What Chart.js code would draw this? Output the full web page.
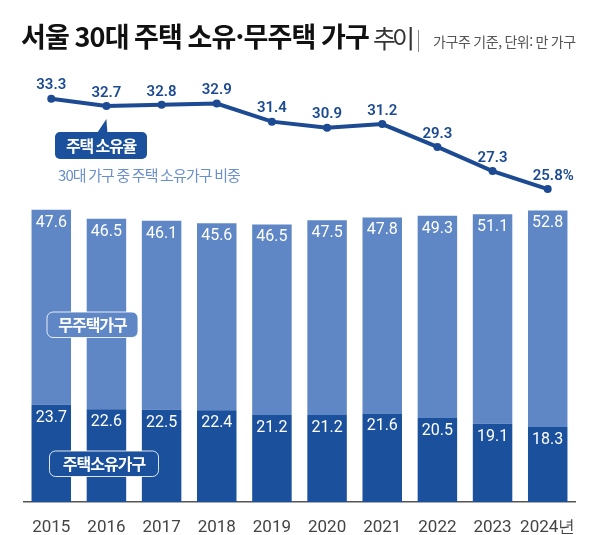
<!DOCTYPE html>
<html lang="ko">
<head>
<meta charset="utf-8">
<title>서울 30대 주택 소유·무주택 가구 추이</title>
<script src="https://cdn.jsdelivr.net/npm/chart.js@4.4.1/dist/chart.umd.min.js"></script>
<style>
  html, body { margin: 0; padding: 0; background: #fff; }
  #wrap { width: 599px; height: 535px; }
</style>
</head>
<body>
<div id="wrap"><canvas id="chart" width="599" height="535"></canvas></div>
<script>
// 연도 / 가구 수(만 가구) / 주택 소유율(%)
const years = ['2015', '2016', '2017', '2018', '2019', '2020', '2021', '2022', '2023', '2024년'];
const ownedHouseholds = [23.7, 22.6, 22.5, 22.4, 21.2, 21.2, 21.6, 20.5, 19.1, 18.3];
const nonOwnedHouseholds = [47.6, 46.5, 46.1, 45.6, 46.5, 47.5, 47.8, 49.3, 51.1, 52.8];
const ownershipRate = [33.3, 32.7, 32.8, 32.9, 31.4, 30.9, 31.2, 29.3, 27.3, 25.8];

const DARK = '#1a509c';
const LIGHT = '#5f87c5';
const LINE = '#1c4a93';
const KR = '"Noto Sans CJK KR", "Noto Sans", sans-serif';
const NUM = 'Roboto, "Noto Sans", sans-serif';

// 말풍선, 제목 등 그리기
const decoPlugin = {
  id: 'deco',
  afterDatasetsDraw(chart) {
    const ctx = chart.ctx;
    ctx.save();

    // 막대 수치
    ctx.font = '16px ' + NUM;
    ctx.fillStyle = '#fff';
    ctx.textAlign = 'center';
    ctx.textBaseline = 'top';
    [0, 1].forEach(i => {
      const vals = chart.data.datasets[i].data;
      chart.getDatasetMeta(i).data.forEach((bar, j) => {
        ctx.fillText(vals[j].toFixed(1), bar.x, bar.y + 5);
      });
    });

    // 꺾은선 수치
    ctx.font = '600 15px ' + NUM;
    ctx.fillStyle = LINE;
    ctx.textBaseline = 'middle';
    const pts = chart.getDatasetMeta(2).data;
    pts.forEach((p, j) => {
      const txt = ownershipRate[j].toFixed(1);
      if (j === pts.length - 1) {
        const w = ctx.measureText(txt).width;
        ctx.textAlign = 'left';
        ctx.fillText(txt + '%', p.x - w / 2, p.y - 13);
      } else {
        ctx.textAlign = 'center';
        ctx.fillText(txt, p.x, p.y - 13);
      }
    });
    ctx.restore();
  },
  afterDraw(chart) {
    const ctx = chart.ctx;
    ctx.save();
    ctx.textBaseline = 'middle';

    // 제목
    ctx.textAlign = 'left';
    ctx.fillStyle = '#111';
    ctx.font = 'bold 27px ' + KR;
    ctx.letterSpacing = '-0.8px';
    const title = '서울 30대 주택 소유·무주택 가구';
    ctx.fillText(title, 21, 37);
    const x = 21 + ctx.measureText(title).width + 4;
    ctx.fillStyle = '#333';
    ctx.font = '25px ' + KR;
    ctx.letterSpacing = '-4px';
    ctx.fillText('추이', x, 38);
    ctx.strokeStyle = '#888';
    ctx.lineWidth = 1;
    ctx.beginPath();
    ctx.moveTo(418.5, 30);
    ctx.lineTo(418.5, 52);
    ctx.stroke();
    ctx.fillStyle = '#555';
    ctx.font = '14px ' + KR;
    ctx.letterSpacing = '-0.4px';
    ctx.fillText('가구주 기준, 단위: 만 가구', 433, 42);

    // 주택 소유율 말풍선 (2016년 점을 가리킴)
    const p = chart.getDatasetMeta(2).data[1];
    ctx.fillStyle = DARK;
    ctx.beginPath();
    ctx.roundRect(55, 132, 92, 27, 5);
    ctx.fill();
    ctx.beginPath();
    ctx.moveTo(p.x - 10, 134);
    ctx.lineTo(p.x + 1, 134);
    ctx.lineTo(p.x, p.y + 13);
    ctx.closePath();
    ctx.fill();
    ctx.fillStyle = '#fff';
    ctx.textAlign = 'center';
    ctx.font = 'bold 16px ' + KR;
    ctx.letterSpacing = '-1.2px';
    ctx.fillText('주택 소유율', 101, 145.5);

    ctx.textAlign = 'left';
    ctx.fillStyle = '#6b8fcc';
    ctx.font = '15px ' + KR;
    ctx.letterSpacing = '-0.9px';
    ctx.fillText('30대 가구 중 주택 소유가구 비중', 58, 175);

    // 범례 상자
    const tag = (text, bx, by, bw, bh, fill) => {
      ctx.beginPath();
      ctx.roundRect(bx, by, bw, bh, 6);
      ctx.fillStyle = fill;
      ctx.fill();
      ctx.strokeStyle = 'rgba(255,255,255,0.85)';
      ctx.lineWidth = 1;
      ctx.stroke();
      ctx.fillStyle = '#fff';
      ctx.textAlign = 'center';
      ctx.font = 'bold 16px ' + KR;
      ctx.letterSpacing = '-1px';
      ctx.fillText(text, bx + bw / 2, by + bh / 2 + 0.5);
    };
    tag('무주택가구', 47, 312, 91, 25.5, LIGHT);
    tag('주택소유가구', 49.5, 451, 109, 25.5, DARK);

    ctx.restore();
  }
};

new Chart(document.getElementById('chart'), {
  type: 'bar',
  data: {
    labels: years,
    datasets: [
      {
        label: '주택소유가구',
        data: ownedHouseholds,
        backgroundColor: DARK,
        yAxisID: 'y',
        order: 1,
        barPercentage: 0.716,
        categoryPercentage: 1
      },
      {
        label: '무주택가구',
        data: nonOwnedHouseholds,
        backgroundColor: LIGHT,
        yAxisID: 'y',
        order: 1,
        barPercentage: 0.716,
        categoryPercentage: 1
      },
      {
        type: 'line',
        label: '주택 소유율',
        data: ownershipRate,
        yAxisID: 'y2',
        order: 0,
        borderColor: LINE,
        backgroundColor: LINE,
        borderWidth: 4,
        pointRadius: 4,
        pointBorderWidth: 0,
        pointBackgroundColor: LINE,
        tension: 0,
        clip: false
      }
    ]
  },
  options: {
    responsive: false,
    animation: false,
    layout: { padding: { top: 92, left: 23.7, right: 23.7, bottom: 0 } },
    plugins: {
      legend: { display: false },
      tooltip: { enabled: false }
    },
    scales: {
      x: {
        stacked: true,
        grid: { display: false },
        border: { display: true, color: '#555', width: 1.5 },
        ticks: {
          color: '#444',
          font: { family: NUM, size: 17 },
          padding: 8,
          maxRotation: 0,
          autoSkip: false
        },
        afterFit: s => { s.height = 33; }
      },
      y: { stacked: true, display: false, min: 0, max: 100 },
      y2: { display: false, min: -0.17, max: 33.86 }
    }
  },
  plugins: [decoPlugin]
});
</script>
</body>
</html>
